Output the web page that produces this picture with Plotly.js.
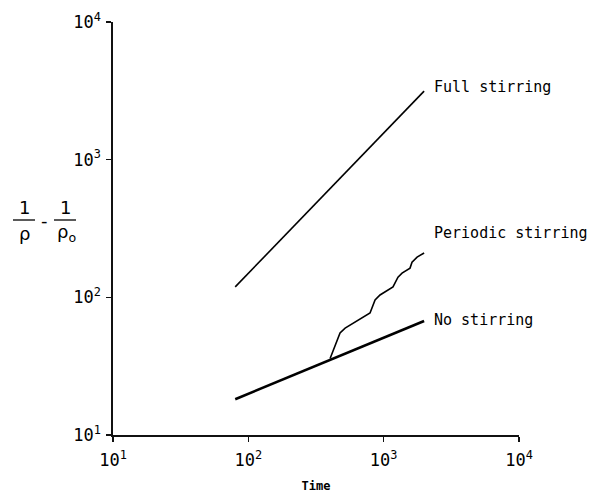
<!DOCTYPE html>
<html>
<head>
<meta charset="utf-8">
<script src="https://cdn.plot.ly/plotly-3.0.1.min.js"></script>
<style>html,body{margin:0;padding:0;background:#fff;} #chart{width:593px;height:493px;}</style>
</head>
<body>
<div id="chart"></div>
<script>
// Data (log-log axes)
var fullTime = [80, 1990];
var fullValue = [119, 3150];

var noTime = [80, 1990];
var noValue = [18.2, 67.3];

var periodicTime  = [402, 476, 519, 594, 793, 864, 940, 1172, 1276, 1367, 1566, 1620, 1766, 1990];
var periodicValue = [36, 55.1, 59.8, 65.0, 76.9, 95.6, 104, 119, 140, 150, 163, 180, 196, 210];

var seriesNames = ["Full stirring", "Periodic stirring", "No stirring"];
var xTickVals = [10, 100, 1000, 10000];
var xTickText = ["10<sup>1</sup>", "10<sup>2</sup>", "10<sup>3</sup>", "10<sup>4</sup>"];
var yTickVals = [10, 100, 1000, 10000];
var yTickText = ["10<sup>1</sup>", "10<sup>2</sup>", "10<sup>3</sup>", "10<sup>4</sup>"];

var labelFont = {family: "DejaVu Sans Mono", size: 15, color: "#000"};

var traces = [
  {x: fullTime, y: fullValue, mode: "lines", line: {color: "#000", width: 1.6}, name: seriesNames[0]},
  {x: periodicTime, y: periodicValue, mode: "lines", line: {color: "#000", width: 1.6}, name: seriesNames[1]},
  {x: noTime, y: noValue, mode: "lines", line: {color: "#000", width: 2.6}, name: seriesNames[2]}
];

var annotations = [
  {x: Math.log10(fullTime[1]), y: Math.log10(fullValue[1]), xref: "x", yref: "y", text: seriesNames[0],
   showarrow: false, xanchor: "left", yanchor: "middle", xshift: 8, yshift: 4, font: labelFont},
  {x: Math.log10(periodicTime[periodicTime.length-1]), y: Math.log10(periodicValue[periodicValue.length-1]), xref: "x", yref: "y", text: seriesNames[1],
   showarrow: false, xanchor: "left", yanchor: "middle", xshift: 8, yshift: 20, font: labelFont},
  {x: Math.log10(noTime[1]), y: Math.log10(noValue[1]), xref: "x", yref: "y", text: seriesNames[2],
   showarrow: false, xanchor: "left", yanchor: "middle", xshift: 8, yshift: 1, font: labelFont},
  // y-axis label: 1/ρ - 1/ρ0 (pixel positions, converted below)
  {x: 24, y: 207, text: "1", showarrow: false},
  {x: 24, y: 233, text: "ρ", showarrow: false},
  {x: 44, y: 220, text: "-", showarrow: false},
  {x: 65, y: 207, text: "1", showarrow: false},
  {x: 66, y: 233, text: "ρ<sub>o</sub>", showarrow: false}
];

var ml = 113, mr = 74, mt = 22, mb = 58, W = 593, H = 493;
var pw = W - ml - mr, ph = H - mt - mb;
function px2paperX(p){ return (p - ml) / pw; }
function px2paperY(p){ return (H - mb - p) / ph; }

for (var i = 3; i < annotations.length; i++) {
  var a = annotations[i];
  a.xref = "paper"; a.yref = "paper";
  a.x = px2paperX(a.x);
  a.y = px2paperY(a.y);
  a.xanchor = "center"; a.yanchor = "middle";
  a.font = {family: "DejaVu Sans", size: 18, color: "#000"};
}

var shapes = [
  {type: "line", xref: "paper", yref: "paper", x0: px2paperX(13), x1: px2paperX(35), y0: px2paperY(220), y1: px2paperY(220), line: {color: "#000", width: 1.3}},
  {type: "line", xref: "paper", yref: "paper", x0: px2paperX(54), x1: px2paperX(76), y0: px2paperY(220), y1: px2paperY(220), line: {color: "#000", width: 1.3}}
];

var tickFont = {family: "DejaVu Sans Mono", size: 17, color: "#000"};

var layout = {
  width: W, height: H,
  margin: {l: ml, r: mr, t: mt, b: mb, pad: 0},
  paper_bgcolor: "#fff", plot_bgcolor: "#fff",
  showlegend: false,
  xaxis: {
    type: "log", range: [1, 4], tickmode: "array", tickvals: xTickVals, ticktext: xTickText,
    showgrid: false, zeroline: false, showline: true, linecolor: "#111", linewidth: 1.6,
    ticks: "outside", ticklen: 5, tickwidth: 1.3, tickcolor: "#111",
    ticklabelstandoff: 4,
    tickfont: tickFont,
    title: {text: "<b>Time</b>", font: {family: "DejaVu Sans Mono", size: 12, color: "#000"}, standoff: 26}
  },
  yaxis: {
    type: "log", range: [1, 4], tickmode: "array", tickvals: yTickVals, ticktext: yTickText,
    showgrid: false, zeroline: false, showline: true, linecolor: "#111", linewidth: 1.6,
    ticks: "outside", ticklen: 5, tickwidth: 1.3, tickcolor: "#111",
    ticklabelstandoff: 2,
    tickfont: tickFont
  },
  annotations: annotations,
  shapes: shapes
};

Plotly.newPlot("chart", traces, layout, {displayModeBar: false, staticPlot: true});
</script>
</body>
</html>
